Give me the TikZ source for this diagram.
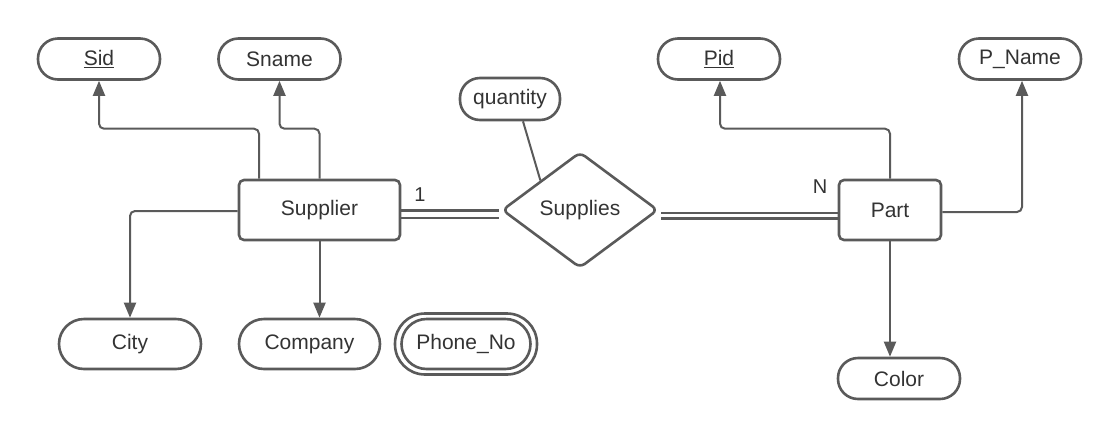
\documentclass[tikz,border=0pt]{standalone}
\usepackage{fontspec}
\setmainfont{Liberation Sans}
\usetikzlibrary{arrows.meta,shapes.geometric}
\definecolor{edge}{HTML}{5A5A5A}
\definecolor{txt}{HTML}{333333}
\tikzset{
  base/.style={draw=edge, line width=2.6pt, fill=white, text=txt, inner sep=0pt,
    font=\fontsize{21}{25}\selectfont},
  attr/.style={base, rectangle, rounded corners=20pt, minimum width=122pt, minimum height=41pt},
  bigattr/.style={base, rectangle, rounded corners=25pt, minimum width=142pt, minimum height=50pt},
  entity/.style={base, rectangle, rounded corners=5pt, minimum height=60pt},
  rel/.style={base, diamond, rounded corners=6pt, minimum width=156pt, minimum height=116pt},
  conn/.style={draw=edge, line width=2pt, rounded corners=5pt},
  arr/.style={conn, -{Triangle[length=15pt,width=12pt]}},
  dbl/.style={draw=edge, line width=2.7pt},
  lbl/.style={text=txt, font=\fontsize{20}{24}\selectfont, inner sep=0pt}
}
\begin{document}
\begin{tikzpicture}[x=1pt,y=-1pt]
\useasboundingbox (0,0) rectangle (1120,440);
% entities and relationship
\node[entity, minimum width=161pt] (sup) at (319.5,210) {Supplier};
\node[entity, minimum width=102pt] (part) at (890,210) {Part};
\node[rel] (rel) at (580,210) {Supplies};
% attributes
\node[attr] (sid) at (99,59) {\underline{Sid}};
\node[attr] (sname) at (279.5,59) {Sname};
\node[attr, minimum width=100pt, minimum height=42pt] (qty) at (510,99) {quantity};
\node[attr] (pid) at (719,59) {\underline{Pid}};
\node[attr] (pname) at (1020,59) {P\_Name};
\node[bigattr] (city) at (130,344) {City};
\node[bigattr, minimum width=141pt] (comp) at (309.5,344) {Company};
\node[base, rectangle, rounded corners=30pt, minimum width=142pt, minimum height=61pt] (phoneo) at (466,344) {};
\node[base, rectangle, rounded corners=25pt, minimum width=129pt, minimum height=50pt] (phone) at (466,344) {Phone\_No};
\node[attr] (color) at (899,378.5) {Color};
% labels
\node[lbl] (one) at (420,195) {1};
\node[lbl] (en) at (820,187) {N};
% connectors
\draw[arr] ([xshift=-60.5pt]sup.north) -- ++(0,-50) -| (sid.south);
\draw[arr] (sup.north) -- ++(0,-50) -| (sname.south);
\draw[arr] ([yshift=-1pt]sup.west) -| (city.north);
\draw[arr] (sup.south) -- (sup.south |- comp.north);
\draw[arr] (part.north) -- ++(0,-50) -| ([xshift=1pt]pid.south);
\draw[arr] ([yshift=-2pt]part.east) -| ([xshift=2pt]pname.south);
\draw[arr] (part.south) -- (part.south |- color.north);
\draw[conn] ([xshift=13pt]qty.south) -- (rel.north west);
% double lines
\draw[dbl] ([yshift=-0.5pt]sup.east) -- ([yshift=-0.5pt,xshift=-2pt]rel.west);
\draw[dbl] ([yshift=-8pt]sup.east) -- ([yshift=-8pt,xshift=-2pt]rel.west);
\draw[dbl] ([yshift=-3pt,xshift=2pt]rel.east) -- ([yshift=-3pt]part.west);
\draw[dbl] ([yshift=-8.5pt,xshift=2pt]rel.east) -- ([yshift=-8.5pt]part.west);
\end{tikzpicture}
\end{document}
